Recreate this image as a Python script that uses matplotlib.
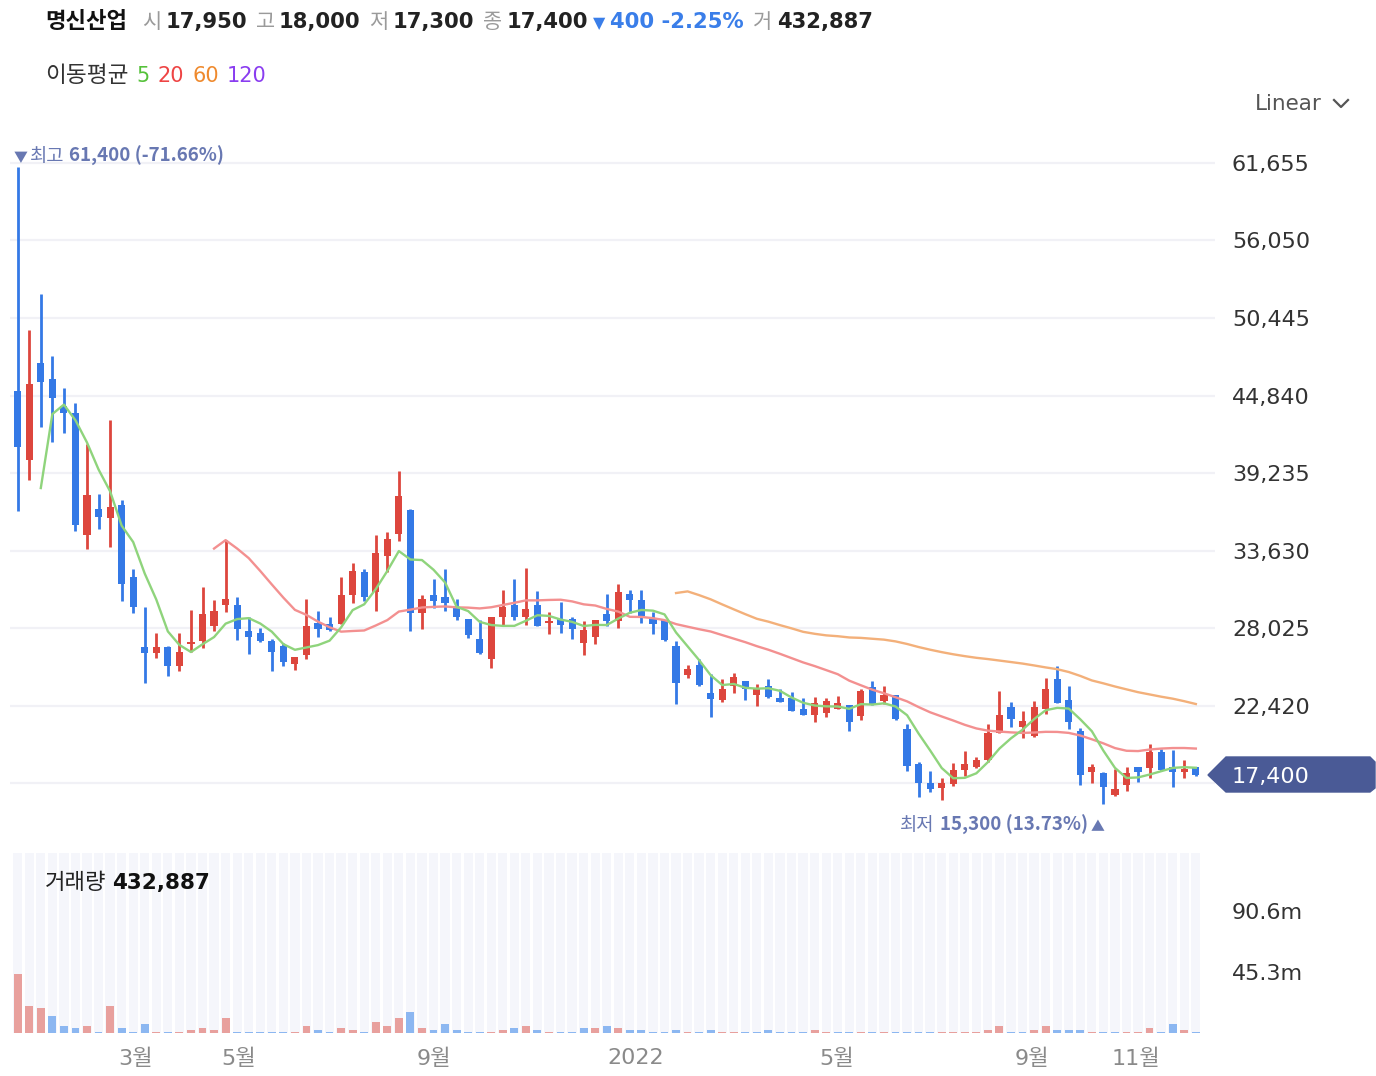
import matplotlib
matplotlib.use("Agg")
import numpy as np
import pandas as pd
import matplotlib.pyplot as plt
from matplotlib.patches import Polygon
from matplotlib.lines import Line2D

KR = ['Noto Sans CJK KR', 'DejaVu Sans']
NUM = ['DejaVu Sans', 'Noto Sans CJK KR']
plt.rcParams['font.family'] = NUM

# weekly candles (KRW)
opens = [45150, 40150, 47200, 46050, 44050, 43550, 34750, 36650, 35950, 36900,
         31700, 26650, 26200, 26650, 25250, 26850, 27050, 28200, 29700, 29700,
         27800, 27650, 27050, 26750, 25450, 26050, 28400, 28350, 28350, 30400,
         32050, 30600, 33200, 34800, 36550, 29100, 30400, 30300, 29550, 28650,
         27200, 25750, 28800, 29700, 28800, 29700, 28400, 28650, 28650, 26950,
         27350, 29050, 28500, 30500, 30050, 28750, 28600, 26750, 24600, 25350,
         23300, 22800, 23800, 24200, 23200, 23800, 23000, 23000, 22200, 21750,
         21900, 22200, 22450, 21650, 23750, 22750, 23200, 20750, 18200, 16850,
         16450, 16750, 17750, 18000, 18500, 20450, 22300, 20850, 20200, 22200,
         24350, 22850, 20600, 17600, 17550, 15950, 16700, 18000, 17900, 19050,
         18000, 17600, 17950]
highs = [61400, 49550, 52200, 47700, 45400, 44300, 41300, 37750, 43050, 37250,
         32300, 29550, 27700, 26750, 27700, 29350, 31000, 30050, 34400, 30250,
         28800, 28050, 27250, 26950, 25900, 30150, 29250, 28800, 31700, 32750,
         32300, 34750, 35000, 39350, 36600, 30400, 31550, 32300, 30100, 28650,
         28600, 28800, 30750, 31600, 32400, 30700, 29150, 29900, 28800, 28500,
         28600, 30450, 31200, 30750, 30750, 29150, 28600, 27050, 25350, 25800,
         24700, 24350, 24750, 24200, 24000, 24350, 23600, 23400, 23000, 23050,
         22950, 23100, 22450, 23600, 24200, 23800, 23200, 21050, 18300, 17650,
         17200, 18250, 19100, 18700, 21100, 23500, 22650, 22050, 22750, 24400,
         25300, 23850, 20800, 18200, 17600, 17850, 17950, 18000, 19650, 19250,
         19200, 18500, 18000]
lows = [36500, 38750, 42550, 41450, 42100, 35050, 33750, 35150, 33850, 29950,
        29100, 24050, 25850, 24550, 24900, 26300, 26550, 27800, 29150, 27150,
        26150, 27000, 24900, 25300, 25000, 25750, 27350, 27800, 28350, 29850,
        30000, 29250, 32100, 34350, 27800, 27950, 29500, 29250, 28600, 27300,
        26150, 25100, 28250, 28600, 28250, 28150, 27600, 27700, 27200, 26100,
        26900, 28200, 28050, 29100, 28400, 27600, 27050, 22500, 24400, 23850,
        21600, 22650, 23300, 22800, 22400, 23000, 22650, 22050, 21700, 21250,
        21600, 22200, 20550, 21350, 22450, 22500, 21350, 17700, 15800, 16150,
        15600, 16600, 17350, 17900, 18350, 20400, 20900, 20100, 20150, 21800,
        22600, 20750, 16700, 16850, 15300, 15850, 16250, 16900, 17200, 17700,
        16500, 17150, 17300]
closes = [41150, 45700, 45800, 44650, 43600, 35500, 37650, 36050, 36750, 31200,
          29550, 26250, 26650, 25250, 26300, 27000, 29050, 29250, 30100, 27950,
          27350, 27100, 26300, 25600, 25900, 28200, 27950, 27900, 30400, 32150,
          30300, 33450, 34450, 37600, 29100, 30100, 29950, 29850, 28800, 27550,
          26200, 28800, 29550, 28800, 29400, 28200, 28550, 28250, 27950, 27900,
          28600, 28500, 30600, 30050, 28900, 28350, 27150, 24050, 25050, 23900,
          22900, 23600, 24450, 23650, 23600, 23050, 22650, 22050, 21750, 22600,
          22750, 22600, 21200, 23450, 22450, 23200, 21450, 18050, 16800, 16350,
          16850, 17750, 18200, 18450, 20400, 21750, 21450, 21300, 22300, 23600,
          22600, 21200, 17400, 18000, 16550, 16400, 17550, 17600, 19050, 17750,
          17600, 17800, 17400]
# two weeks before the first visible candle (only feed the moving averages)
prior_closes = [17900, 40190]

# weekly volume, millions of shares
volumes = [44.0, 19.8, 18.3, 12.4, 5.0, 3.5, 5.0, 0.8, 19.8, 3.5,
           0.8, 6.4, 1.0, 1.0, 1.0, 2.0, 3.5, 2.0, 10.9, 1.0,
           1.0, 0.6, 1.0, 1.0, 1.0, 5.0, 2.0, 1.0, 3.5, 2.0,
           1.0, 7.9, 5.0, 10.9, 15.3, 3.5, 2.0, 6.4, 2.0, 1.0,
           1.0, 1.0, 2.0, 3.5, 5.0, 2.0, 1.0, 1.0, 1.0, 3.5,
           3.5, 5.0, 3.5, 2.0, 2.0, 1.0, 1.0, 2.0, 1.0, 1.0,
           2.0, 1.0, 1.0, 1.0, 1.0, 2.0, 1.0, 1.0, 1.0, 2.0,
           1.0, 1.0, 1.0, 1.0, 1.0, 1.0, 1.0, 1.0, 1.0, 1.0,
           1.0, 1.0, 1.0, 1.0, 2.0, 5.0, 1.0, 1.0, 2.0, 5.0,
           2.0, 2.0, 2.0, 1.0, 1.0, 1.0, 1.0, 1.0, 3.5, 1.0,
           6.4, 2.0, 0.43]

month_ticks = [10.2, 19.1, 36.0, 53.5, 70.9, 87.8, 96.8]
month_labels = ['3월', '5월', '9월', '2022', '5월', '9월', '11월']
price_ticks = [61655, 56050, 50445, 44840, 39235, 33630, 28025, 22420, 16815]
vol_ticks = [45.3, 90.6]
vol_tick_labels = ['45.3m', '90.6m']

RED, BLUE = '#dd463d', '#3479e6'
VRED, VBLUE = '#e8a09d', '#8cb7f1'
LABEL = '#6878b2'

W, H = 1376, 1076
fig = plt.figure(figsize=(W / 100, H / 100), dpi=100)
renderer = fig.canvas.get_renderer()


def px_axes(x0, y0, x1, y1):
    return fig.add_axes([x0 / W, 1 - y1 / H, (x1 - x0) / W, (y1 - y0) / H])


def fx(x):
    return x / W


def fy(y):
    return 1 - y / H


n = len(closes)
idx = np.arange(n)
o = np.array(opens); c = np.array(closes)
hi = np.array(highs); lo = np.array(lows)
up = c >= o

# ---------- price pane ----------
ax = px_axes(10, 140, 1215, 845)
ax.set_xlim(-0.667, 103.66)
ax.set_ylim(12333, 63318)
for s in ax.spines.values():
    s.set_visible(False)
ax.set_xticks([])
ax.yaxis.tick_right()
# the lowest grid label sits under the current-price tag
ax.set_yticks(price_ticks, [f'{v:,}' for v in price_ticks[:-1]] + [''])
ax.tick_params(axis='y', length=0, pad=12.2, labelsize=16, labelcolor='#333333')
ax.grid(axis='y', color='#f1f1f6', lw=1.6)
ax.set_axisbelow(True)

cols = np.where(up, RED, BLUE)
ax.vlines(idx, lo, hi, colors=cols, lw=2.0, zorder=2)
body_h = np.maximum(np.abs(c - o), 120)
ax.bar(idx, body_h, bottom=np.minimum(o, c), width=0.62, color=cols, zorder=3)

full = pd.Series(prior_closes + closes, dtype=float)
k = len(prior_closes)
ma5 = full.rolling(5).mean().iloc[k:].values
ma20 = full.rolling(20).mean().iloc[k:].values
ma60 = full.rolling(60).mean().iloc[k:].values
ax.plot(idx, ma60, color='#f3b07a', lw=1.7, zorder=4)
ax.plot(idx, ma20, color='#f39090', lw=1.7, zorder=4)
ax.plot(idx, ma5, color='#8fd47c', lw=1.7, zorder=5)

# ---------- volume pane ----------
axv = px_axes(12, 853, 1200, 1033)
vtop = 133.7
axv.set_xlim(-0.494, 102.37)
axv.set_ylim(0, vtop)
for s in axv.spines.values():
    s.set_visible(False)
axv.bar(idx, vtop, width=0.8, color='#f5f6fb', zorder=1)
prev = np.array((prior_closes + closes)[k - 1:-1])
vcols = np.where(c > prev, VRED, VBLUE)
axv.bar(idx, volumes, width=0.68, color=vcols, zorder=2)
axv.yaxis.tick_right()
axv.set_yticks(vol_ticks, vol_tick_labels)
axv.tick_params(axis='y', length=0, pad=23, labelsize=16, labelcolor='#333333')
axv.set_xticks(month_ticks, month_labels)
axv.tick_params(axis='x', length=0, pad=11, labelsize=16, labelcolor='#8a8a8a')


# ---------- texts ----------
def chain(parts, x, y):
    # parts: (text, color, weight, size, family, gap_px); y is the baseline in px
    for s, col, wt, size, fam, gap in parts:
        x += gap
        t = fig.text(fx(x), fy(y), s, color=col, fontsize=size, fontweight=wt,
                     family=fam, va='baseline', ha='left')
        x = t.get_window_extent(renderer).x1


G, D, B = '#9a9a9a', '#222222', '#3a7ee9'
V = 15.2
chain([('명신산업', '#111111', 'bold', 16, KR, 0),
       ('시', G, 'normal', 15, KR, 15), ('17,950', D, 'bold', V, NUM, 4),
       ('고', G, 'normal', 15, KR, 9), ('18,000', D, 'bold', V, NUM, 4),
       ('저', G, 'normal', 15, KR, 9), ('17,300', D, 'bold', V, NUM, 4),
       ('종', G, 'normal', 15, KR, 9), ('17,400', D, 'bold', V, NUM, 4),
       ('▼', B, 'normal', 11.5, NUM, 5), ('400 -2.25%', B, 'bold', V, NUM, 5),
       ('거', G, 'normal', 15, KR, 9), ('432,887', D, 'bold', V, NUM, 5)], 45, 28)

chain([('이동평균', '#333333', 'normal', 16.3, KR, 0), ('5', '#55c13a', 'normal', 15, NUM, 8),
       ('20', '#ee4444', 'normal', 15, NUM, 8), ('60', '#ef8a2e', 'normal', 15, NUM, 8),
       ('120', '#8a3df0', 'normal', 15, NUM, 8)], 45, 82)

fig.text(fx(1255), fy(110), 'Linear', fontsize=15.5, color='#555555', va='baseline', ha='left')
fig.add_artist(Line2D([fx(1334), fx(1341), fx(1348)], [fy(100), fy(107), fy(100)],
                      transform=fig.transFigure, color='#555555', lw=1.6))

chain([('▼', LABEL, 'normal', 10, KR, 0), ('최고', LABEL, 'normal', 13.5, KR, 2),
       ('61,400 (-71.66%)', LABEL, 'bold', 13.5, KR, 5)], 14, 162)
chain([('최저', LABEL, 'normal', 13.5, KR, 0), ('15,300 (13.73%)', LABEL, 'bold', 13.5, KR, 5),
       ('▲', LABEL, 'normal', 10, KR, 3)], 900, 831)

chain([('거래량', '#222222', 'normal', 16, KR, 0),
       ('432,887', '#111111', 'bold', 15.5, NUM, 6)], 45, 889)

# current price tag
tag = [(1208, 775), (1226, 757), (1370, 757), (1375, 762), (1375, 788), (1370, 792), (1226, 792)]
fig.add_artist(Polygon([(fx(a), fy(b)) for a, b in tag], closed=True,
                       transform=fig.transFigure, color='#4a5a96', zorder=10))
fig.text(fx(1232), fy(775), f'{closes[-1]:,}', fontsize=16, color='white',
         va='center_baseline', ha='left', zorder=11)

fig.savefig('out.png', dpi=100, facecolor='white')
